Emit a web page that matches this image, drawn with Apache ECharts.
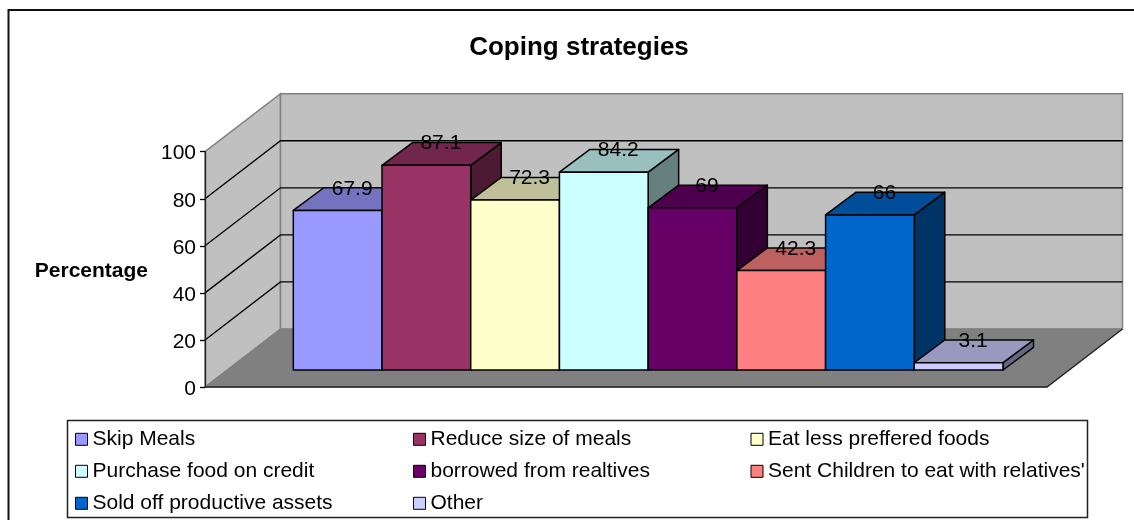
<!DOCTYPE html>
<html>
<head>
<meta charset="utf-8">
<style>html,body{margin:0;padding:0;background:#fff}#chart{width:1134px;height:520px}</style>
<script src="https://cdn.jsdelivr.net/npm/echarts@6/dist/echarts.min.js"></script>
</head>
<body>
<div id="chart"></div>
<script>
// Survey results: share of households using each coping strategy
const categories = ['Skip Meals', 'Reduce size of meals', 'Eat less preffered foods', 'Purchase food on credit',
  'borrowed from realtives', "Sent Children to eat with relatives'", 'Sold off productive assets', 'Other'];
const values = [67.9, 87.1, 72.3, 84.2, 69, 42.3, 66, 3.1];
const colors = ['#9999FF', '#993366', '#FFFFCC', '#CCFFFF', '#660066', '#FF8080', '#0066CC', '#CCCCFF'];
const yTicks = [0, 20, 40, 60, 80, 100];

// Oblique projection used to fake the 3D box
const ROOM = { dx: 75.5, dy: -58 };
const BAR = { dx: 30.5, dy: -22.7 };
const FONT = '"Liberation Sans", Arial, sans-serif';

function shade(hex, f) {
  const n = parseInt(hex.slice(1), 16);
  const c = s => Math.round(((n >> s) & 255) * f);
  return `rgb(${c(16)},${c(8)},${c(0)})`;
}
const shift = (p, d) => [p[0] + d.dx, p[1] + d.dy];

// Side wall, back wall and floor of the room
function renderRoom(params, api) {
  const a = api.coord([0, 0]), b = api.coord([0, 100]), c = api.coord([1, 0]);
  const a2 = shift(a, ROOM), b2 = shift(b, ROOM), c2 = shift(c, ROOM);
  const wall = { fill: '#C0C0C0', stroke: '#808080', lineWidth: 1.5 };
  const d = shift(api.coord([1, 100]), ROOM);
  return {
    type: 'group',
    children: [
      { type: 'polygon', shape: { points: [a, b, b2, a2] }, style: wall },
      { type: 'polygon', shape: { points: [a2, b2, d, c2] }, style: wall },
      { type: 'polygon', shape: { points: [a, a2, c2, c] }, style: { fill: '#808080', stroke: '#808080', lineWidth: 1 } },
      { type: 'polyline', shape: { points: [a, c, c2] }, style: { fill: null, stroke: '#222', lineWidth: 1.3 } }
    ]
  };
}

// Gridline running along the side wall and then across the back wall
function renderGridline(params, api) {
  const v = api.value(0);
  if (v === 0 || v === 100) return null;
  const a = api.coord([0, v]), c = api.coord([1, v]);
  return {
    type: 'polyline',
    shape: { points: [a, shift(a, ROOM), shift(c, ROOM)] },
    style: { fill: null, stroke: '#000', lineWidth: 1.3 }
  };
}

// One box: front, top and right faces plus the value above the top face
function renderBar(params, api) {
  const base = api.coord([api.value(0), 0]);
  const top = api.coord([api.value(0), api.value(1)]);
  const w = api.size([1, 0])[0];
  const color = colors[api.value(0)];
  const line = { stroke: '#000', lineWidth: 1.5, lineJoin: 'round' };
  const fl = [base[0] - w / 2, base[1]], fr = [base[0] + w / 2, base[1]];
  const tl = [top[0] - w / 2, top[1]], tr = [top[0] + w / 2, top[1]];
  return {
    type: 'group',
    children: [
      { type: 'polygon', shape: { points: [fr, tr, shift(tr, BAR), shift(fr, BAR)] }, style: { fill: shade(color, 0.5), ...line } },
      { type: 'polygon', shape: { points: [tl, tr, shift(tr, BAR), shift(tl, BAR)] }, style: { fill: shade(color, 0.75), ...line } },
      { type: 'polygon', shape: { points: [fl, tl, tr, fr] }, style: { fill: color, ...line } },
      {
        type: 'text', z2: 100,
        style: {
          x: top[0] + 14.5, y: top[1] + BAR.dy + 1,
          text: String(api.value(1)), fill: '#000', font: '21px ' + FONT,
          align: 'center', verticalAlign: 'middle'
        }
      }
    ]
  };
}

const barSeries = categories.map((name, i) => ({
  name, type: 'custom', xAxisIndex: 1, yAxisIndex: 1, z: 3 + i,
  coordinateSystem: 'cartesian2d', clip: false,
  itemStyle: { color: colors[i], borderColor: '#000', borderWidth: 1 },
  encode: { x: 0, y: 1 },
  data: [[i, values[i]]],
  renderItem: renderBar
}));

const legendColumn = (left, names) => ({
  orient: 'vertical', left, top: 428.8, padding: 0,
  itemWidth: 12, itemHeight: 12, itemGap: 11,
  icon: 'rect', itemStyle: { borderColor: '#000', borderWidth: 1 },
  selectedMode: false,
  textStyle: { color: '#000', fontFamily: FONT, fontSize: 21 },
  data: names
});

const chart = echarts.init(document.getElementById('chart'), null, { renderer: 'canvas' });
chart.setOption({
  animation: false,
  backgroundColor: '#fff',
  title: {
    text: 'Coping strategies', left: 579, top: 35, textAlign: 'center', padding: 0,
    textStyle: { color: '#000', fontFamily: FONT, fontWeight: 'bold', fontSize: 26 }
  },
  legend: [
    legendColumn(75, [categories[0], categories[3], categories[6]]),
    legendColumn(413, [categories[1], categories[4], categories[7]]),
    legendColumn(750.5, [categories[2], categories[5]])
  ],
  grid: [
    { left: 205, top: 151.7, width: 842, height: 235.3 },
    { left: 293.3, top: 135, width: 709.7, height: 235 }
  ],
  xAxis: [
    { type: 'value', gridIndex: 0, min: 0, max: 1, show: false },
    { type: 'category', gridIndex: 1, data: categories, show: false, boundaryGap: true }
  ],
  yAxis: [
    {
      type: 'value', gridIndex: 0, min: 0, max: 100, interval: 20, z: 20,
      name: 'Percentage', nameLocation: 'middle', nameRotate: 0, nameGap: 57,
      nameTextStyle: { color: '#000', fontFamily: FONT, fontWeight: 'bold', fontSize: 21, verticalAlign: 'top', lineHeight: 4 },
      axisLine: { show: true, lineStyle: { color: '#222', width: 1.3 } },
      axisTick: { show: true, length: 5, lineStyle: { color: '#000', width: 1.3 } },
      axisLabel: { color: '#000', fontFamily: FONT, fontSize: 21, margin: 9, verticalAlign: 'top', lineHeight: 4 },
      splitLine: { show: false }
    },
    { type: 'value', gridIndex: 1, min: 0, max: 100, show: false, splitLine: { show: false } }
  ],
  graphic: [
    { type: 'rect', silent: true, z: -10, shape: { x: 8.5, y: 10, width: 1300, height: 700 }, style: { fill: null, stroke: '#111', lineWidth: 2 } },
    { type: 'rect', silent: true, z: -10, shape: { x: 67.5, y: 420.5, width: 1020, height: 97 }, style: { fill: '#fff', stroke: '#222', lineWidth: 1.5 } }
  ],
  series: [
    { type: 'custom', coordinateSystem: 'cartesian2d', xAxisIndex: 0, yAxisIndex: 0, z: 1, clip: false, silent: true,
      data: [[0, 0]], renderItem: renderRoom },
    { type: 'custom', coordinateSystem: 'cartesian2d', xAxisIndex: 0, yAxisIndex: 0, z: 2, clip: false, silent: true,
      data: yTicks.map(v => [v]), encode: { y: 0 }, renderItem: renderGridline },
    ...barSeries
  ]
});
</script>
</body>
</html>
